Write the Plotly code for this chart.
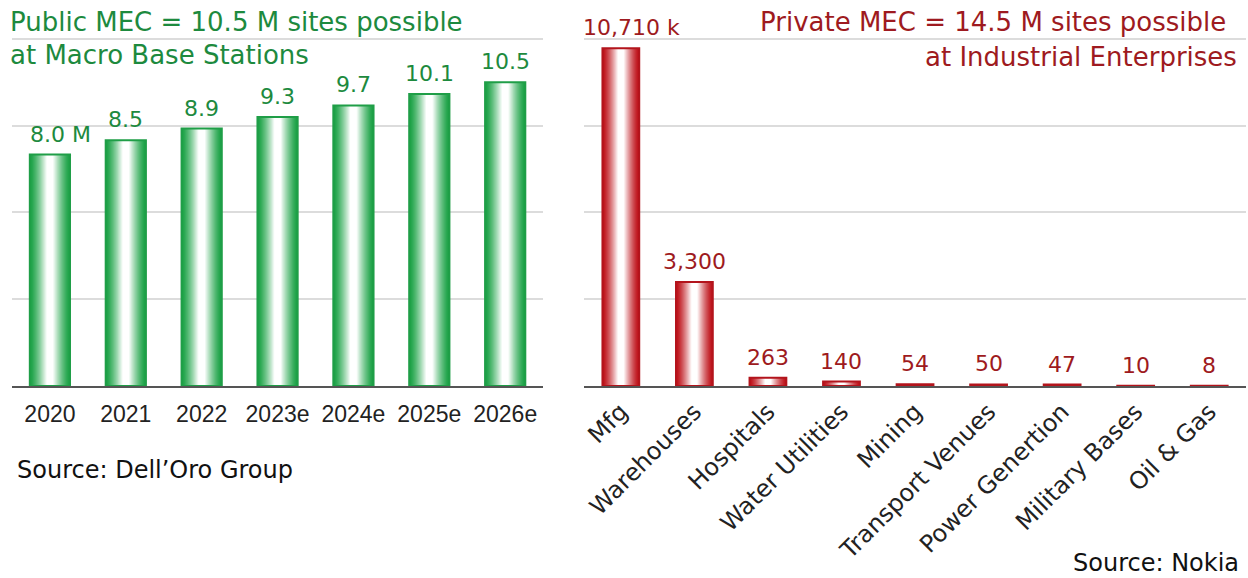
import plotly.graph_objects as go

# ---------------- data ----------------
years = ["2020", "2021", "2022", "2023e", "2024e", "2025e", "2026e"]
public_sites = [8.0, 8.5, 8.9, 9.3, 9.7, 10.1, 10.5]
public_labels = ["8.0 M", "8.5", "8.9", "9.3", "9.7", "10.1", "10.5"]

sectors = ["Mfg", "Warehouses", "Hospitals", "Water Utilities", "Mining",
           "Transport Venues", "Power Genertion", "Military Bases", "Oil & Gas"]
private_sites = [10710, 3300, 263, 140, 54, 50, 47, 10, 8]
private_labels = ["10,710 k", "3,300", "263", "140", "54", "50", "47", "10", "8"]

left_grid = [3, 6, 9, 12]

# ---------------- style ----------------
W, H = 1248, 578
GREEN = (28, 162, 70)
GREEN_LINE = "#1f9e47"
GREEN_TEXT = "#1d8a3e"
RED = (190, 18, 26)
RED_LINE = "#b3141c"
RED_TEXT = "#9e1a20"
FONT = "DejaVu Sans, Verdana, sans-serif"
ARIAL = "Liberation Sans, Arial, sans-serif"

LEFT_TOP = 13.0
RIGHT_TOP = 11920.0
right_grid = [g * RIGHT_TOP / LEFT_TOP for g in left_grid]


def mix(c, t):
    r, g, b = [int(round(v + (255 - v) * t)) for v in c]
    return f"rgb({r},{g},{b})"


fig = go.Figure()

N_LAYERS = 18


def add_gradient_bars(x, y, base_color, line_color, bar_w, xa, ya, labels, text_color):
    for i in range(N_LAYERS):
        frac = 1 - i / N_LAYERS
        t = min(1.0, (i / (N_LAYERS * 0.82)) ** 1.35)
        fig.add_trace(go.Bar(
            x=x, y=y, width=bar_w * frac,
            marker=dict(color=mix(base_color, t), line=dict(width=0)),
            xaxis=xa, yaxis=ya, showlegend=False, hoverinfo="skip",
        ))
    fig.add_trace(go.Bar(
        x=x, y=y, width=bar_w,
        marker=dict(color="rgba(0,0,0,0)", line=dict(color=line_color, width=2)),
        xaxis=xa, yaxis=ya, showlegend=False,
    ))
    # category index positions (avoid numeric-looking category strings)
    for idx, (yi, lab) in enumerate(zip(y, labels)):
        # a trailing unit (" M", " k") hangs to the right of the centred number
        has_unit = " " in lab
        fig.add_annotation(
            x=idx, y=yi, xref=xa, yref=ya, text=lab, showarrow=False,
            yanchor="bottom", yshift=6, xshift=11 if has_unit else 0,
            font=dict(family=FONT, size=22, color=text_color),
        )


add_gradient_bars(years, public_sites, GREEN, GREEN_LINE, 0.53, "x", "y",
                  public_labels, GREEN_TEXT)
add_gradient_bars(sectors, private_sites, RED, RED_LINE, 0.5, "x2", "y2",
                  private_labels, RED_TEXT)

y_bottom = (H - 386) / H
y_top = 1 - 10 / H

fig.update_layout(
    width=W, height=H,
    margin=dict(l=0, r=0, t=0, b=0),
    paper_bgcolor="white", plot_bgcolor="white",
    barmode="overlay",
    xaxis=dict(domain=[10 / W, 542 / W], type="category",
               range=[-0.5, len(years) - 0.5],
               showline=True, linecolor="#555555",
               linewidth=2, showgrid=False, ticks="", ticklabelstandoff=6,
               tickfont=dict(family=ARIAL, size=23, color="#222222")),
    yaxis=dict(domain=[y_bottom, y_top], range=[0, LEFT_TOP], tickvals=left_grid,
               showticklabels=False, showgrid=True, gridcolor="#dcdcdc",
               gridwidth=2, zeroline=False, showline=False),
    xaxis2=dict(domain=[583 / W, 1246 / W], anchor="y2", type="category",
                range=[-0.5, len(sectors) - 0.5],
                showline=True, linecolor="#555555", linewidth=2,
                showgrid=False, ticks="", tickangle=-45,
                tickfont=dict(family=FONT, size=24, color="#222222")),
    yaxis2=dict(domain=[y_bottom, y_top], anchor="x2", range=[0, RIGHT_TOP],
                tickvals=right_grid, showticklabels=False, showgrid=True,
                gridcolor="#dcdcdc", gridwidth=2, zeroline=False, showline=False),
)

TITLE_SIZE = 26
fig.add_annotation(x=6 / W, y=1 - 22 / H, xref="paper", yref="paper",
                   xanchor="left", yanchor="middle", showarrow=False,
                   text="Public MEC = 10.5 M sites possible",
                   font=dict(family=FONT, size=TITLE_SIZE, color=GREEN_TEXT))
fig.add_annotation(x=6 / W, y=1 - 55 / H, xref="paper", yref="paper",
                   xanchor="left", yanchor="middle", showarrow=False,
                   text="at Macro Base Stations",
                   font=dict(family=FONT, size=TITLE_SIZE, color=GREEN_TEXT))
fig.add_annotation(x=1228 / W, y=1 - 22 / H, xref="paper", yref="paper",
                   xanchor="right", yanchor="middle", showarrow=False,
                   text="Private MEC = 14.5 M sites possible",
                   font=dict(family=FONT, size=TITLE_SIZE, color=RED_TEXT))
fig.add_annotation(x=1239 / W, y=1 - 57 / H, xref="paper", yref="paper",
                   xanchor="right", yanchor="middle", showarrow=False,
                   text="at Industrial Enterprises",
                   font=dict(family=FONT, size=TITLE_SIZE, color=RED_TEXT))
fig.add_annotation(x=13 / W, y=1 - 470 / H, xref="paper", yref="paper",
                   xanchor="left", yanchor="middle", showarrow=False,
                   text="Source: Dell\u2019Oro Group",
                   font=dict(family=FONT, size=24, color="#111111"))
fig.add_annotation(x=1241 / W, y=1 - 563 / H, xref="paper", yref="paper",
                   xanchor="right", yanchor="middle", showarrow=False,
                   text="Source: Nokia",
                   font=dict(family=FONT, size=24, color="#111111"))

fig.write_html("out.html")
